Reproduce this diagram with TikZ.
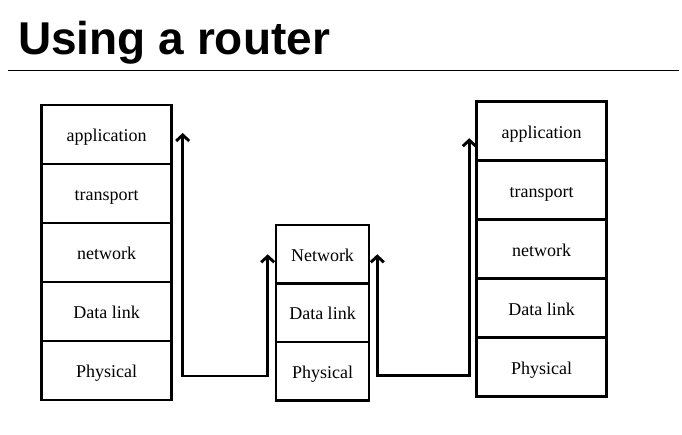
\documentclass[tikz,border=0pt]{standalone}
\usepackage{fontspec}
\setmainfont{Liberation Serif}
\newfontfamily\titlefont{Liberation Sans}
\usetikzlibrary{positioning,arrows.meta}

\begin{document}
\begin{tikzpicture}[
  x=1pt, y=-1pt,
  layer/.style={draw, line width=2.8pt, outer sep=0pt, inner sep=0pt,
    minimum width=130pt, minimum height=59pt,
    text height=14pt, text depth=0pt,
    font=\fontsize{18}{20}\selectfont},
  rlayer/.style={layer, minimum width=93pt, minimum height=58.5pt},
  hop/.style={<->, line width=2.9pt, line join=miter,
    >={Straight Barb[length=6pt,width=13pt]}}
]
\useasboundingbox (0,0) rectangle (682,435);

% Title
\node[anchor=base west, inner sep=0pt, font=\titlefont\bfseries\fontsize{46}{50}\selectfont]
  (title) at (18,55) {Using a router};
\draw[line width=1pt] (8,70.5) coordinate (rl) -- (679,70.5) coordinate (rr);

% Left host
\node[layer] (appL) at (106.7,134.5) {application};
\node[layer, below=0pt of appL] (traL) {transport};
\node[layer, below=0pt of traL] (netL) {network};
\node[layer, below=0pt of netL] (dlL) {Data link};
\node[layer, below=0pt of dlL] (phyL) {Physical};

% Router
\node[rlayer] (netM) at (322.5,254.3) {Network};
\node[rlayer, below=0pt of netM] (dlM) {Data link};
\node[rlayer, below=0pt of dlM] (phyM) {Physical};

% Right host
\node[layer] (appR) at (541.7,131.2) {application};
\node[layer, below=0pt of appR] (traR) {transport};
\node[layer, below=0pt of traR] (netR) {network};
\node[layer, below=0pt of netR] (dlR) {Data link};
\node[layer, below=0pt of dlR] (phyR) {Physical};

% Path host -> router -> host
\coordinate (up1) at ([xshift=11pt,yshift=1.5pt]appL.east);
\coordinate (lo1) at ([xshift=11pt,yshift=-5.5pt]phyL.east);
\coordinate (in1) at ([xshift=-8.3pt]netM.west);
\draw[hop] (up1) -- (lo1) -| (in1);

\coordinate (out2) at ([xshift=8.3pt]netM.east);
\coordinate (lo2) at ([xshift=8.3pt,yshift=-4pt]phyM.east);
\coordinate (in2) at ([xshift=-7.4pt,yshift=-7pt]appR.west);
\draw[hop] (out2) -- (lo2) -| (in2);

\end{tikzpicture}
\end{document}
